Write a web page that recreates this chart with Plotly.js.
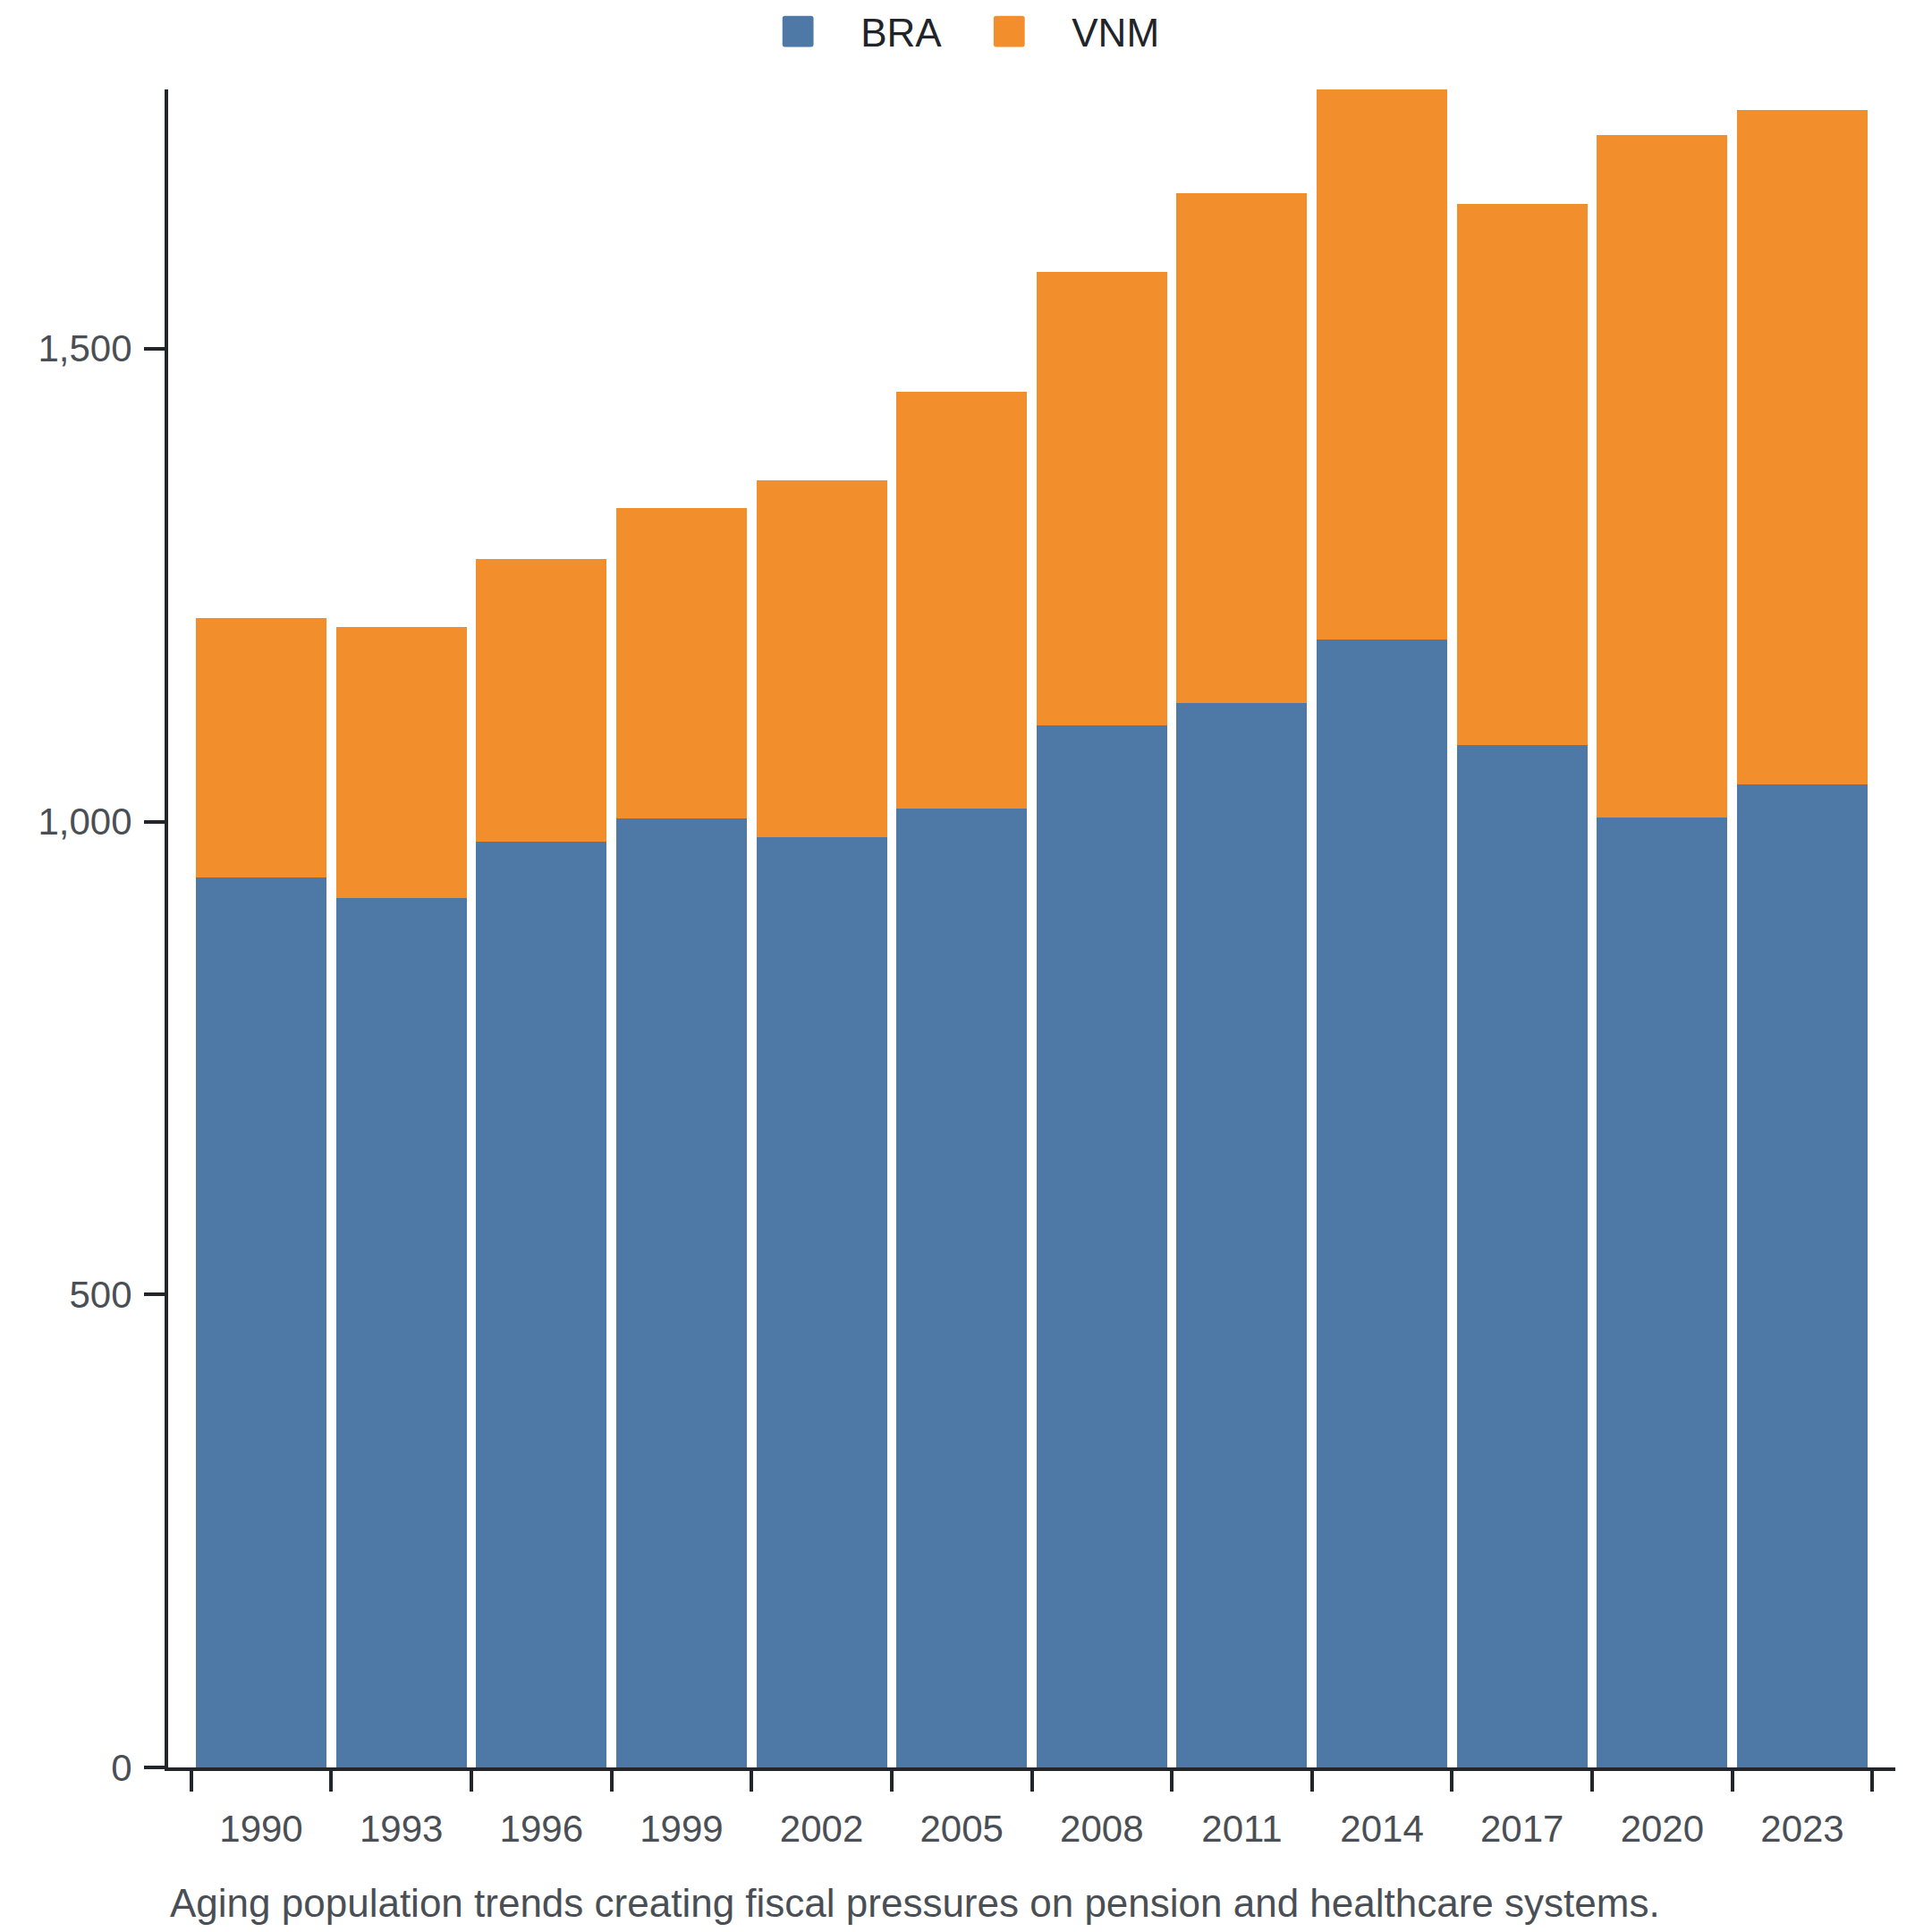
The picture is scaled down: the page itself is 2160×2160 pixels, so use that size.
<!DOCTYPE html>
<html>
<head>
<meta charset="utf-8">
<script src="https://cdn.plot.ly/plotly-3.0.1.min.js"></script>
<style>
  html, body { margin: 0; padding: 0; background: #fff; }
  #myPlot { width: 2160px; height: 2160px; }
</style>
</head>
<body>
<div id="myPlot"></div>
<script>
// years and values
const years = ["1990", "1993", "1996", "1999", "2002", "2005", "2008", "2011", "2014", "2017", "2020", "2023"];
const braValues = [941, 919, 979, 1003, 983, 1014, 1102, 1125, 1192, 1081, 1004, 1039];
const vnmValues = [274, 287, 299, 328, 378, 440, 479, 539, 584, 572, 722, 713];
const yTicks = [0, 500, 1000, 1500];
const caption = "Aging population trends creating fiscal pressures on pension and healthcare systems.";

const fontFamily = "Liberation Sans, Arial, sans-serif";

const bra = {
  type: "bar",
  name: "BRA",
  x: years,
  y: braValues,
  marker: { color: "#4e79a7", line: { width: 0 } },
};

const vnm = {
  type: "bar",
  name: "VNM",
  x: years,
  y: vnmValues,
  marker: { color: "#f28e2b", line: { width: 0 } },
};

var data = [bra, vnm];

var layout = {
  width: 2160,
  height: 2160,
  barmode: "stack",
  bargap: 0.068,
  paper_bgcolor: "#ffffff",
  plot_bgcolor: "#ffffff",
  font: { family: fontFamily, size: 42, color: "#4a4f55" },
  margin: { l: 188, r: 41, t: 100, b: 184 },
  showlegend: true,
  legend: {
    orientation: "h",
    xref: "container",
    yref: "container",
    x: 0.4915,
    xanchor: "center",
    y: 1,
    yanchor: "top",
    font: { size: 44, color: "#212529" },
    itemwidth: 130,
    traceorder: "normal",
  },
  xaxis: {
    type: "category",
    range: [-0.664, 11.664],
    showline: true,
    linecolor: "#222529",
    linewidth: 4,
    ticks: "outside",
    tickson: "boundaries",
    ticklen: 23,
    tickwidth: 4,
    tickcolor: "#222529",
    showgrid: false,
    zeroline: false,
    ticklabelstandoff: 29,
    tickfont: { size: 42, color: "#4a4f55" },
  },
  yaxis: {
    range: [0, 1774],
    showline: true,
    linecolor: "#222529",
    linewidth: 4,
    ticks: "outside",
    ticklen: 23,
    tickwidth: 4,
    tickcolor: "#222529",
    tickvals: yTicks,
    tickformat: ",d",
    showgrid: false,
    zeroline: false,
    ticklabelstandoff: 5,
    tickfont: { size: 42, color: "#4a4f55" },
  },
  annotations: [
    {
      text: caption,
      xref: "paper",
      yref: "paper",
      x: 0,
      xanchor: "left",
      y: -0.0805,
      yanchor: "middle",
      showarrow: false,
      font: { size: 44, color: "#4a4f55" },
    },
  ],
};

Plotly.newPlot("myPlot", data, layout, { displayModeBar: false, staticPlot: true }).then(function () {
  // bigger, rounded legend swatches (keep plotly's own translate)
  document.querySelectorAll("#myPlot .legendpoints path").forEach(function (p) {
    var t = p.getAttribute("transform") || "";
    p.setAttribute("d", "M-5,-6H5A1,1 0 0 1 6,-5V5A1,1 0 0 1 5,6H-5A1,1 0 0 1 -6,5V-5A1,1 0 0 1 -5,-6Z");
    p.setAttribute("transform", t + " scale(2.9)");
  });
});
</script>
</body>
</html>
